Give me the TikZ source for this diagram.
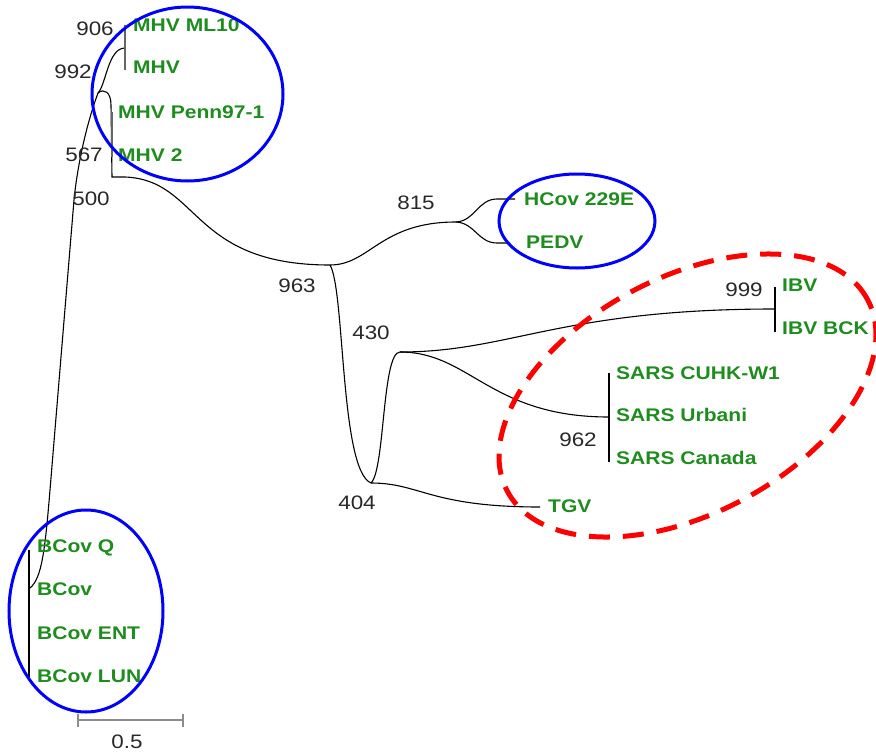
\documentclass[tikz,border=0pt]{standalone}
\usepackage{fontspec}
\setmainfont{Liberation Sans}[FakeStretch=1.15]
\definecolor{leaf}{RGB}{30,140,30}
\definecolor{num}{RGB}{40,40,40}
\begin{document}
\begin{tikzpicture}[x=1pt,y=-1pt,
  branch/.style={line width=1.1pt, black},
  bar/.style={line width=1.6pt, black},
  graybar/.style={line width=2pt, black!60},
  leaflabel/.style={anchor=west, inner sep=0pt, text=leaf, font=\bfseries\fontsize{18.3}{20}\selectfont},
  support/.style={inner sep=0pt, text=num, font=\fontsize{19.5}{21}\selectfont},
  group/.style={blue, line width=3pt},
  redgroup/.style={red, line width=5pt, dash pattern=on 21pt off 13pt},
  scalebar/.style={line width=1.5pt, black!45}]
\useasboundingbox (0,0) rectangle (876,755);

% tree nodes
\coordinate (n906) at (125,48);
\coordinate (n992) at (98,93);
\coordinate (n567) at (112,177);
\coordinate (n963) at (330,265);
\coordinate (n815) at (456,222);
\coordinate (n404) at (371,483);
\coordinate (n430) at (400,352);
\coordinate (n999) at (775,309);
\coordinate (n962) at (609,417);
\coordinate (nBC) at (30,588);
\coordinate (tHC) at (515,199);
\coordinate (tPE) at (510,243);
\coordinate (tTG) at (540,507);

% branches
\draw[branch] (n992) .. controls (106,85) and (108,48) .. (n906);
\draw[branch] (n992) .. controls (104,88) and (111,92) .. (111,105) -- (n567) -- (125,177) .. controls (200,180) and (190,265) .. (n963);
\draw[branch] (n963) .. controls (370,265) and (380,222) .. (n815);
\draw[branch] (n815) .. controls (475,221) and (478,199) .. (497,199) -- (tHC);
\draw[branch] (n815) .. controls (475,223) and (478,243) .. (497,243) -- (tPE);
\draw[branch] (n963) .. controls (345,290) and (340,470) .. (n404);
\draw[branch] (n404) .. controls (385,470) and (382,352) .. (n430);
\draw[branch] (n430) .. controls (510,352) and (560,309) .. (n999);
\draw[branch] (n430) .. controls (470,352) and (490,417) .. (n962);
\draw[branch] (n404) .. controls (420,483) and (430,507) .. (tTG);
\draw[branch] (n992) .. controls (88,120) and (78,160) .. (74,200) -- (50,490) .. controls (45,550) and (42,578) .. (nBC);

% bars
\draw[graybar] (125,25) -- (125,70);
\draw[graybar] (112,112) -- (112,157);
\draw[bar] (609,373) -- (609,462);
\draw[bar] (775,287) -- (775,332);
\draw[bar] (29,550) -- (29,677);

% leaf labels
\node[leaflabel] (lML10) at (133,25) {MHV ML10};
\node[leaflabel] (lMHV) at (133,67) {MHV};
\node[leaflabel] (lPenn) at (118,112) {MHV Penn97-1};
\node[leaflabel] (lMHV2) at (118,155) {MHV 2};
\node[leaflabel] (lHC) at (524,199) {HCov 229E};
\node[leaflabel] (lPE) at (526,242) {PEDV};
\node[leaflabel] (lIBV) at (782,285) {IBV};
\node[leaflabel] (lIBVB) at (782,328) {IBV BCK};
\node[leaflabel] (lS1) at (616,373) {SARS CUHK-W1};
\node[leaflabel] (lS2) at (616,415) {SARS Urbani};
\node[leaflabel] (lS3) at (616,458) {SARS Canada};
\node[leaflabel] (lTGV) at (548,506) {TGV};
\node[leaflabel] (lB1) at (37,548) {BCov Q};
\node[leaflabel] (lB2) at (37,589) {BCov};
\node[leaflabel] (lB3) at (37,633) {BCov ENT};
\node[leaflabel] (lB4) at (37,676) {BCov LUN};

% support values
\node[support] (s906) at (95,29) {906};
\node[support] (s992) at (73,72) {992};
\node[support] (s567) at (84,155) {567};
\node[support] (s500) at (91,199) {500};
\node[support] (s815) at (416,203) {815};
\node[support] (s963) at (297,286) {963};
\node[support] (s430) at (371,333) {430};
\node[support] (s404) at (357,503) {404};
\node[support] (s999) at (744,290) {999};
\node[support] (s962) at (578,440) {962};

% scale bar
\coordinate (sbL) at (78,720);
\coordinate (sbR) at (183,720);
\draw[scalebar] (sbL) -- (sbR);
\draw[scalebar] (78,714) -- (78,727);
\draw[scalebar] (183,714) -- (183,727);
\node[support] (sbT) at (127,742) {0.5};

% groups
\draw[group] (187.5,94) ellipse [x radius=95.5pt, y radius=87pt];
\draw[group] (577,221) ellipse [x radius=78pt, y radius=47pt];
\draw[group] (86,611) ellipse [x radius=77pt, y radius=101pt];
\draw[redgroup, rotate around={28:(687.5,395.5)}] (687.5,395.5) ellipse [x radius=204pt, y radius=118pt];
\end{tikzpicture}
\end{document}
